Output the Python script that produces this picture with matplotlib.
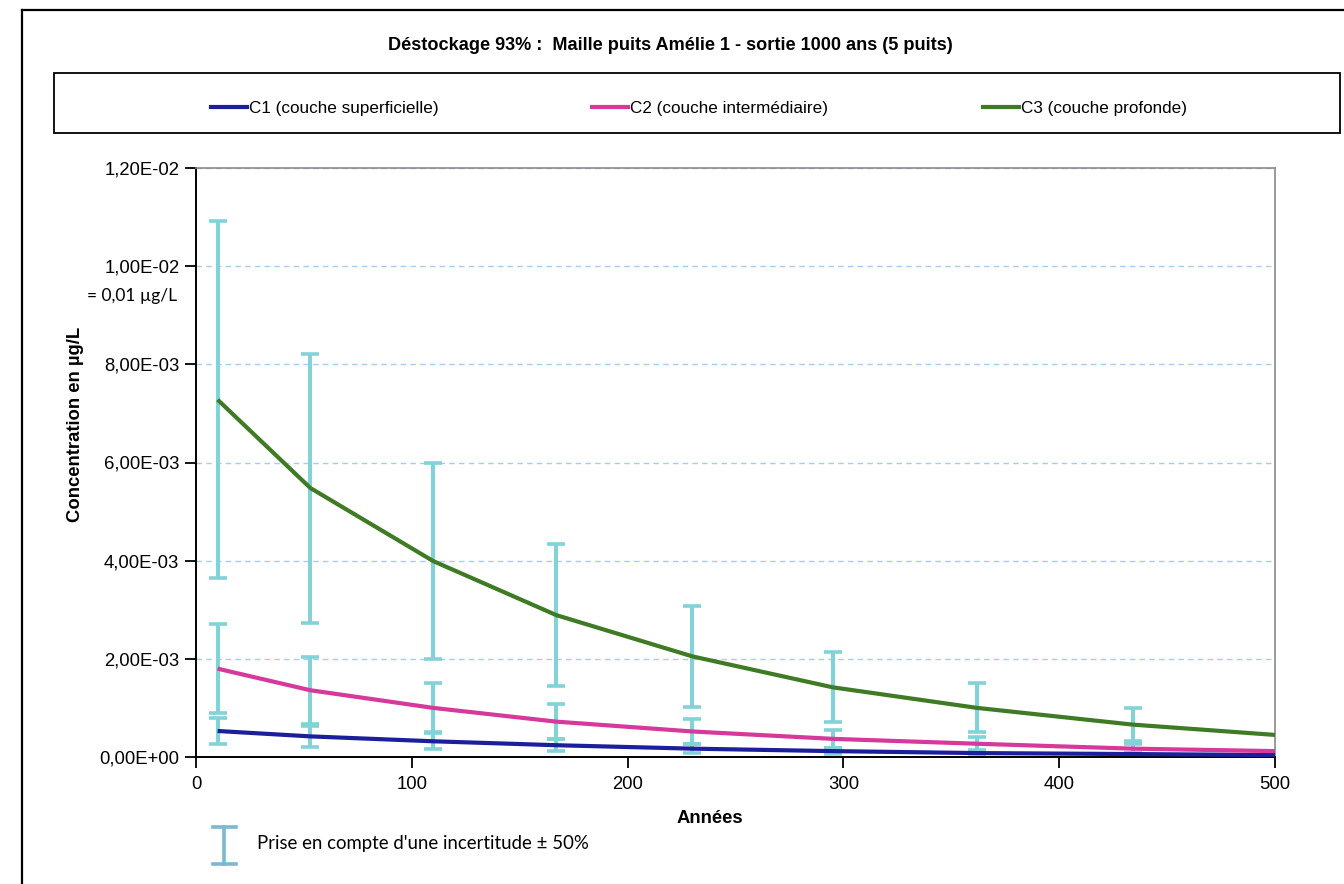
import matplotlib
matplotlib.use("Agg")
import matplotlib.pyplot as plt
from matplotlib.lines import Line2D
from matplotlib.patches import Rectangle
from matplotlib.ticker import FuncFormatter, MultipleLocator

# ---- data ----
years = [10, 53, 110, 167, 230, 295, 362, 434, 500]
c1 = [0.53e-3, 0.42e-3, 0.32e-3, 0.24e-3, 0.17e-3, 0.12e-3, 0.08e-3, 0.06e-3, 0.04e-3]
c2 = [1.80e-3, 1.36e-3, 1.00e-3, 0.72e-3, 0.52e-3, 0.37e-3, 0.27e-3, 0.17e-3, 0.12e-3]
c3 = [7.28e-3, 5.48e-3, 3.99e-3, 2.89e-3, 2.05e-3, 1.42e-3, 1.00e-3, 0.66e-3, 0.45e-3]
err_years = [10, 53, 110, 167, 230, 295, 362, 434]
uncertainty = 0.5

series_names = ["C1 (couche superficielle)", "C2 (couche intermédiaire)", "C3 (couche profonde)"]
series_colors = ["#1b1f9c", "#d6399b", "#3f7a24"]
err_color = "#82d3d8"

title = "Déstockage 93% :  Maille puits Amélie 1 - sortie 1000 ans (5 puits)"

W, H = 1344, 884
fig = plt.figure(figsize=(W / 100, H / 100), dpi=100)
plt.rcParams['font.family'] = ['Liberation Sans', 'DejaVu Sans']

def fx(px):
    return px / W

def fy(py):
    return 1 - py / H

ax = fig.add_axes([fx(196), fy(757), fx(1275) - fx(196), fy(168) - fy(757)])

# error bars
for vals in [c1, c2, c3]:
    ev = [vals[years.index(x)] for x in err_years]
    ax.errorbar(err_years, ev, yerr=[[v * uncertainty for v in ev], [v * uncertainty for v in ev]],
                fmt='none', ecolor=err_color, elinewidth=2.9, capsize=6.5, capthick=2.6, zorder=2)

for vals, col in zip([c1, c2, c3], series_colors):
    ax.plot(years, vals, color=col, lw=3.0, zorder=3, solid_capstyle='butt')

ax.set_xlim(0, 500)
ax.set_ylim(0, 0.012)
ax.xaxis.set_major_locator(MultipleLocator(100))
ax.yaxis.set_major_locator(MultipleLocator(0.002))
ax.yaxis.set_major_formatter(FuncFormatter(lambda v, p: f"{v:.2E}".replace('.', ',')))
ax.tick_params(axis='both', labelsize=13.3, direction='out', length=8, width=1.3, colors='black')
ax.tick_params(axis='y', pad=4)
ax.tick_params(axis='x', pad=6)
ax.grid(axis='y', color='#a9cbf2', linestyle=(0, (4, 3)), lw=1.0)
ax.set_axisbelow(True)
for s in ['left', 'bottom']:
    ax.spines[s].set_color('black')
    ax.spines[s].set_linewidth(1.4)
for s in ['top', 'right']:
    ax.spines[s].set_color('#8a8a8a')
    ax.spines[s].set_linewidth(1.2)

ax_w = fx(1275) - fx(196)
ax_h = fy(168) - fy(757)
ax.set_xlabel("Années", fontsize=13.3, fontweight='bold')
ax.set_ylabel("Concentration en µg/L", fontsize=13.3, fontweight='bold')
ax.yaxis.set_label_coords((fx(84) - fx(196)) / ax_w, (fy(424) - fy(757)) / ax_h)
ax.xaxis.set_label_coords((fx(710) - fx(196)) / ax_w, (fy(810) - fy(757)) / ax_h)

fig.text(fx(177), fy(296), "= 0,01 µg/L", fontsize=12.5, ha='right', va='center',
         family=['Lato', 'DejaVu Sans'])

# outer frame (top & left visible)
fig.add_artist(Line2D([fx(22), 1.0], [fy(10), fy(10)], color='black', lw=1.6))
fig.add_artist(Line2D([fx(22), fx(22)], [0, fy(10)], color='black', lw=1.6))

fig.text(fx(670), fy(46), title, fontsize=13.1, fontweight='bold', ha='center', va='center')

# legend box
fig.add_artist(Rectangle((fx(54), fy(133)), fx(1340) - fx(54), fy(73) - fy(133),
                         transform=fig.transFigure, fill=False, edgecolor='black', lw=1.3))
leg_x = [211, 592, 983]
for name, col, lx in zip(series_names, series_colors, leg_x):
    fig.add_artist(Line2D([fx(lx), fx(lx + 36)], [fy(107), fy(107)], color=col, lw=3.0))
    fig.text(fx(lx + 38), fy(108), name, fontsize=12.3, ha='left', va='center')

# uncertainty key
key_col = "#7ab9cf"
fig.add_artist(Line2D([fx(224), fx(224)], [fy(827), fy(864)], color=key_col, lw=2.6))
fig.add_artist(Line2D([fx(213), fx(236)], [fy(827), fy(827)], color=key_col, lw=2.6))
fig.add_artist(Line2D([fx(213), fx(236)], [fy(864), fy(864)], color=key_col, lw=2.6))
fig.text(fx(257), fy(844), "Prise en compte d'une incertitude ± 50%", fontsize=13.4,
         ha='left', va='center', family=['Lato', 'DejaVu Sans'])

fig.savefig("out.png", dpi=100)
